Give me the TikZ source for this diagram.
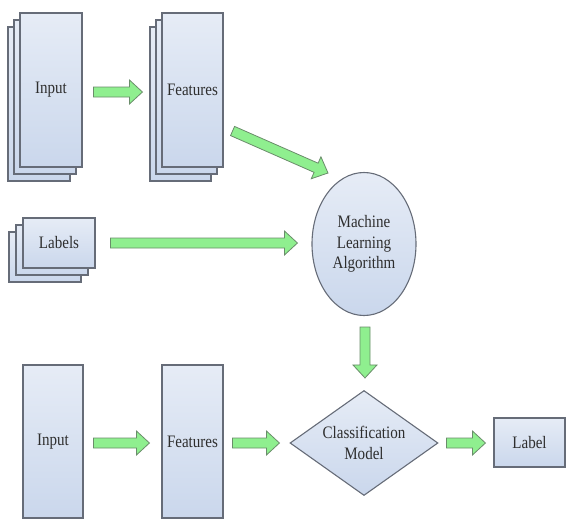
\documentclass[tikz,border=0pt]{standalone}
\usepackage{fontspec}
\setmainfont[FakeStretch=0.86]{Liberation Serif}
\usetikzlibrary{calc,shapes.geometric}
\definecolor{boxedge}{HTML}{666C78}
\definecolor{boxtop}{HTML}{E6ECF6}
\definecolor{boxbot}{HTML}{CAD7EC}
\definecolor{arrfill}{HTML}{8FEF8F}
\definecolor{arredge}{HTML}{6A8C6A}
\definecolor{txt}{HTML}{2E2E2E}
\tikzset{
  sheet/.style={draw=boxedge, line width=1.1pt, top color=boxtop, bottom color=boxbot,
    inner sep=0pt, text=txt, align=center, font=\fontsize{17.5}{20.5}\selectfont},
  ellnode/.style={sheet, ellipse},
  diamnode/.style={sheet, diamond, aspect=1.41},
  fatarrow/.style={draw=arredge, line width=0.8pt, fill=arrfill, line join=miter},
}
% fat block arrow from coordinate #1 to coordinate #2
\newcommand\fatarr[2]{%
  \coordinate (#1#2H) at ($(#2)!13pt!(#1)$);
  \draw[fatarrow] ($(#1)!5pt!90:(#2)$) -- ($(#1#2H)!5pt!-90:(#1)$) -- ($(#1#2H)!12pt!-90:(#1)$)
    -- (#2) -- ($(#1#2H)!12pt!90:(#1)$) -- ($(#1#2H)!5pt!90:(#1)$) -- ($(#1)!5pt!-90:(#2)$) -- cycle;}
\begin{document}
\begin{tikzpicture}[x=1pt, y=-1pt]
\useasboundingbox (0,0) rectangle (566,520);
% top input stack
\node[sheet, minimum width=62pt, minimum height=154pt] (inAb) at (39,104) {};
\node[sheet, minimum width=62pt, minimum height=154pt] (inAm) at (45,97) {};
\node[sheet, minimum width=62pt, minimum height=154pt] (inA) at (51,90) {Input};
% top features stack
\node[sheet, minimum width=61pt, minimum height=154pt] (feAb) at (180.5,104) {};
\node[sheet, minimum width=61pt, minimum height=154pt] (feAm) at (186.5,97) {};
\node[sheet, minimum width=61pt, minimum height=154pt] (feA) at (192.5,90) {Features};
% labels stack
\node[sheet, minimum width=72pt, minimum height=50pt] (labb) at (45,257) {};
\node[sheet, minimum width=72pt, minimum height=50pt] (labm) at (52,250) {};
\node[sheet, minimum width=72pt, minimum height=50pt] (lab) at (59,243) {Labels};
% machine learning algorithm
\node[ellnode, minimum width=104pt, minimum height=143pt] (ml) at (364,244) {Machine\\Learning\\Algorithm};
% bottom row
\node[sheet, minimum width=60pt, minimum height=153pt] (inB) at (53,441.5) {Input};
\node[sheet, minimum width=61pt, minimum height=153pt] (feB) at (192.5,441.5) {Features};
\node[diamnode, minimum width=148pt, minimum height=105pt] (cm) at (364,443) {Classification\\Model};
\node[sheet, minimum width=71pt, minimum height=49pt] (out) at (529.5,442.5) {Label};
% arrow ends
\coordinate (a1s) at ($(inA.east)+(11,2)$);
\coordinate (a1e) at ($(feAb.west)+(-7,-12)$);
\coordinate (a2s) at ($(feA.east)+(9,41)$);
\coordinate (a2e) at ($(ml.center)+(-36,-71)$);
\coordinate (a3s) at ($(lab.east)+(15,0)$);
\coordinate (a3e) at ($(ml.west)+(-14,-1)$);
\coordinate (a4s) at ($(ml.south)+(1,11)$);
\coordinate (a4e) at ($(cm.north)+(1,-12)$);
\coordinate (a5s) at ($(inB.east)+(10,1.5)$);
\coordinate (a5e) at ($(feB.west)+(-12,1.5)$);
\coordinate (a6s) at ($(feB.east)+(9,1.5)$);
\coordinate (a6e) at ($(cm.west)+(-10,0)$);
\coordinate (a7s) at ($(cm.east)+(8,0)$);
\coordinate (a7e) at ($(out.west)+(-8,0.5)$);
\fatarr{a1s}{a1e}
\fatarr{a2s}{a2e}
\fatarr{a3s}{a3e}
\fatarr{a4s}{a4e}
\fatarr{a5s}{a5e}
\fatarr{a6s}{a6e}
\fatarr{a7s}{a7e}
\end{tikzpicture}
\end{document}
